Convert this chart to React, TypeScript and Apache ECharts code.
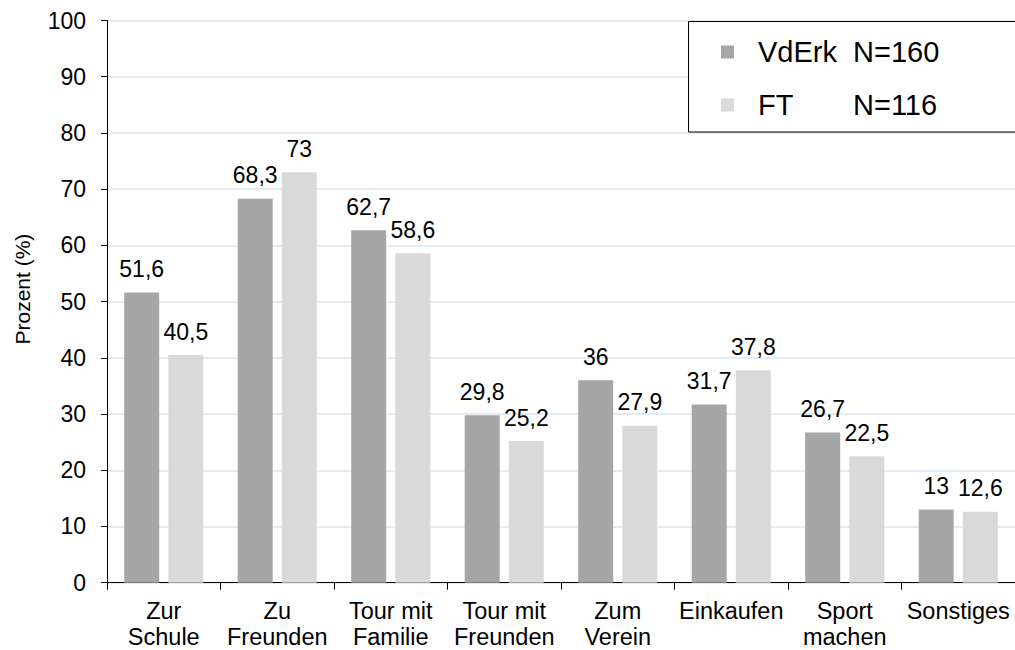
import React, { useEffect, useRef } from "react";
import * as echarts from "echarts";

const categories = [
  "Zur\nSchule",
  "Zu\nFreunden",
  "Tour mit\nFamilie",
  "Tour mit\nFreunden",
  "Zum\nVerein",
  "Einkaufen",
  "Sport\nmachen",
  "Sonstiges",
];
const seriesNames = ["VdErk", "FT"];
const sampleSizes = ["N=160", "N=116"];
const vdErkValues = [51.6, 68.3, 62.7, 29.8, 36, 31.7, 26.7, 13];
const ftValues = [40.5, 73, 58.6, 25.2, 27.9, 37.8, 22.5, 12.6];
const yAxisName = "Prozent (%)";

const FONT = "'Liberation Sans', Arial, sans-serif";
const DARK = "#a6a6a6";
const LIGHT = "#d9d9d9";

const fmt = (v: number) => String(v).replace(".", ",");

export default function App() {
  const ref = useRef<HTMLDivElement>(null);
  useEffect(() => {
    if (!ref.current) return;
    const chart = echarts.init(ref.current, null, { renderer: "svg" });
    const labelCfg = {
      show: true,
      position: "top" as const,
      distance: 12,
      color: "#000",
      fontFamily: FONT,
      fontSize: 23,
      formatter: (p: any) => fmt(p.value),
    };
    chart.setOption({
      animation: false,
      backgroundColor: "#fff",
      textStyle: { fontFamily: FONT },
      grid: { left: 107, top: 20.5, width: 916, height: 562.2, containLabel: false },
      graphic: [
        {
          type: "rect",
          z: 1,
          shape: { x: 688.5, y: 21.5, width: 360, height: 110.5 },
          style: { fill: "#fff", stroke: "#000", lineWidth: 1 },
        },
      ],
      legend: {
        orient: "vertical",
        left: 688,
        top: 21,
        z: 10,
        data: seriesNames,
        icon: "rect",
        itemWidth: 13,
        itemHeight: 13,
        itemGap: 21,
        backgroundColor: "transparent",
        borderWidth: 0,
        padding: [15, 0, 12, 33],
        formatter: (name: string) => {
          const i = seriesNames.indexOf(name);
          return `{a|${name}}{b|${sampleSizes[i]}}`;
        },
        textStyle: {
          fontFamily: FONT,
          fontSize: 29,
          color: "#000",
          lineHeight: 32,
          rich: {
            a: {
              width: 95,
              padding: [0, 0, 0, 19],
              fontSize: 29,
              fontFamily: FONT,
              lineHeight: 32,
            },
            b: { fontSize: 29, fontFamily: FONT, lineHeight: 32 },
          },
        },
        selectedMode: false,
      },
      xAxis: {
        type: "category",
        data: categories,
        axisLine: { lineStyle: { color: "#000", width: 1 } },
        axisTick: { show: true, length: 7, lineStyle: { color: "#000" } },
        axisLabel: {
          color: "#000",
          fontFamily: FONT,
          fontSize: 23.5,
          lineHeight: 26,
          margin: 15,
          interval: 0,
        },
      },
      yAxis: {
        type: "value",
        min: 0,
        max: 100,
        interval: 10,
        name: yAxisName,
        nameLocation: "middle",
        nameGap: 74,
        nameTextStyle: {
          color: "#000",
          fontFamily: FONT,
          fontSize: 21,
          padding: [0, 0, 0, 25],
        },
        axisLine: { show: true, lineStyle: { color: "#000", width: 1 } },
        axisTick: { show: true, length: 6, lineStyle: { color: "#000" } },
        axisLabel: { color: "#000", fontFamily: FONT, fontSize: 23, margin: 21 },
        splitLine: { show: true, lineStyle: { color: "#dae4f1", width: 1.5 } },
      },
      series: [
        {
          name: seriesNames[0],
          type: "bar",
          data: vdErkValues,
          barWidth: 35,
          barGap: "26%",
          itemStyle: { color: DARK },
          label: labelCfg,
        },
        {
          name: seriesNames[1],
          type: "bar",
          data: ftValues,
          barWidth: 35,
          barGap: "26%",
          itemStyle: { color: LIGHT },
          label: labelCfg,
        },
      ],
    });
    return () => chart.dispose();
  }, []);
  return (
    <div
      ref={ref}
      style={{ position: "absolute", left: 0, top: 0, width: 1015, height: 650 }}
    />
  );
}
